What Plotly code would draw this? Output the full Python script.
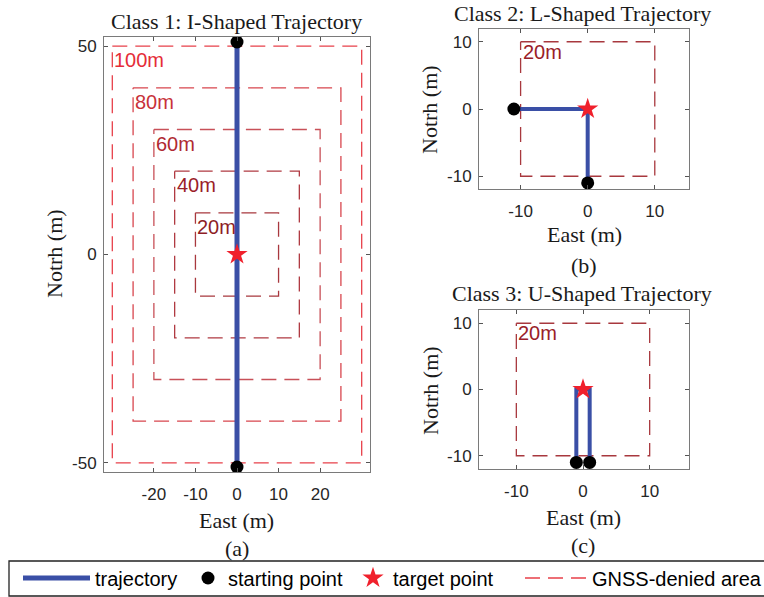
import plotly.graph_objects as go

# ---------------- data ----------------
# GNSS-denied square areas (panel a): half widths / half heights (m)
area_labels = ["100m", "80m", "60m", "40m", "20m"]
area_half_e = [30, 25, 20, 15, 10]
area_half_n = [50, 40, 30, 20, 10]
area_line_colors = ["#e8404a", "#d8464e", "#c85058", "#b03a42", "#a8383e"]
area_text_colors = ["#e52d38", "#c8323a", "#b02a32", "#9a2028", "#8e1e26"]

# Class 1: I-shaped trajectory
traj1_e = [0, 0]
traj1_n = [51, -51]
start1_e = [0, 0]
start1_n = [51, -51]

# Class 2: L-shaped trajectory
traj2_e = [-11, 0, 0]
traj2_n = [0, 0, -11]
start2_e = [-11, 0]
start2_n = [0, -11]

# Class 3: U-shaped trajectory
traj3_e = [-1, -1, 1, 1]
traj3_n = [-11, 0, 0, -11]
start3_e = [-1, 1]
start3_n = [-11, -11]

target_e = [0]
target_n = [0]

small_label = "20m"
small_half = 10

# tick values / labels
x1_ticks = [-20, -10, 0, 10, 20]
x1_ticklabels = ["-20", "-10", "0", "10", "20"]
y1_ticks = [-50, 0, 50]
y1_ticklabels = ["-50", "0", "50"]
small_ticks = [-10, 0, 10]
small_ticklabels = ["-10", "0", "10"]

titles = ["Class 1: I-Shaped Trajectory", "Class 2: L-Shaped Trajectory",
          "Class 3: U-Shaped Trajectory"]
sub_labels = ["(a)", "(b)", "(c)"]
legend_names = ["trajectory", "starting point", "target point", "GNSS-denied area"]

# ---------------- style ----------------
W, H = 764, 597
BLUE = "#3a4fa6"
RED = "#f0202c"
DARK = "#262626"
SANS = "Liberation Sans"
SERIF = "Liberation Serif"
DASH = "15px,8px"

fig = go.Figure()


def rect(he, hn):
    return [-he, he, he, -he, -he], [hn, hn, -hn, -hn, hn]


# Panel (a) boxes
for i, (lab, he, hn) in enumerate(zip(area_labels, area_half_e, area_half_n)):
    xs, ys = rect(he, hn)
    fig.add_trace(go.Scatter(
        x=xs, y=ys, mode="lines", xaxis="x", yaxis="y",
        line=dict(color=area_line_colors[i], width=1.3, dash=DASH),
        name=legend_names[3], showlegend=(i == 0), legend="legend4",
        hoverinfo="skip"))
    fig.add_annotation(x=-he, y=hn, xref="x", yref="y", text=lab,
                       showarrow=False, xanchor="left", yanchor="top",
                       xshift=0, yshift=-1,
                       font=dict(family=SANS, size=20, color=area_text_colors[i]))

# small panels boxes
for ax in ["2", "3"]:
    xs, ys = rect(small_half, small_half)
    fig.add_trace(go.Scatter(
        x=xs, y=ys, mode="lines", xaxis="x" + ax, yaxis="y" + ax,
        line=dict(color="#a8383e", width=1.3, dash=DASH),
        showlegend=False, hoverinfo="skip"))
    fig.add_annotation(x=-small_half, y=small_half, xref="x" + ax, yref="y" + ax,
                       text=small_label, showarrow=False, xanchor="left",
                       yanchor="top", xshift=0, yshift=3,
                       font=dict(family=SANS, size=20, color="#9a2028"))

trajs = [(traj1_e, traj1_n, start1_e, start1_n, "", 5),
         (traj2_e, traj2_n, start2_e, start2_n, "2", 4),
         (traj3_e, traj3_n, start3_e, start3_n, "3", 4)]
for k, (te, tn, se, sn, ax, lw) in enumerate(trajs):
    fig.add_trace(go.Scatter(
        x=te, y=tn, mode="lines", xaxis="x" + ax, yaxis="y" + ax,
        line=dict(color=BLUE, width=lw), name=legend_names[0],
        showlegend=(k == 0), legend="legend", hoverinfo="skip"))
for k, (te, tn, se, sn, ax, lw) in enumerate(trajs):
    fig.add_trace(go.Scatter(
        x=se, y=sn, mode="markers", xaxis="x" + ax, yaxis="y" + ax,
        marker=dict(color="black", size=13, symbol="circle"),
        name=legend_names[1], showlegend=(k == 0), legend="legend2",
        hoverinfo="skip"))
    fig.add_trace(go.Scatter(
        x=target_e, y=target_n, mode="markers", xaxis="x" + ax, yaxis="y" + ax,
        marker=dict(color=RED, size=16, symbol="star", line=dict(width=0)),
        name=legend_names[2], showlegend=(k == 0), legend="legend3",
        hoverinfo="skip"))


def px_x(p):
    return p / W


def px_y(p):
    return 1 - p / H


axis_common = dict(showline=True, linecolor="#7a7a7a", linewidth=1, mirror="allticks",
                   ticks="inside", ticklen=4, tickcolor="#555555", showgrid=False,
                   zeroline=False, tickfont=dict(family=SANS, size=17, color=DARK),
                   fixedrange=True)

legend_font = dict(family=SANS, size=20, color="black")


def leg(xp, iw):
    return dict(orientation="h", x=px_x(xp), y=px_y(578), xanchor="left",
                yanchor="middle", bgcolor="rgba(0,0,0,0)", borderwidth=0,
                font=legend_font, itemwidth=iw)


fig.update_layout(
    width=W, height=H, margin=dict(l=0, r=0, t=0, b=0, autoexpand=False),
    paper_bgcolor="white", plot_bgcolor="white",
    xaxis=dict(domain=[px_x(104), px_x(370)], range=[-32, 32],
               tickvals=x1_ticks, ticktext=x1_ticklabels, anchor="y",
               ticklabelstandoff=7, **axis_common),
    yaxis=dict(domain=[px_y(472), px_y(37)], range=[-52.2, 52.2],
               tickvals=y1_ticks, ticktext=y1_ticklabels, anchor="x",
               ticklabelstandoff=3, **axis_common),
    xaxis2=dict(domain=[px_x(479), px_x(689)], range=[-16.2, 15.1],
                tickvals=small_ticks, ticktext=small_ticklabels, anchor="y2",
                ticklabelstandoff=7, **axis_common),
    yaxis2=dict(domain=[px_y(189), px_y(29)], range=[-11.9, 11.9],
                tickvals=small_ticks, ticktext=small_ticklabels, anchor="x2",
                ticklabelstandoff=3, **axis_common),
    xaxis3=dict(domain=[px_x(479), px_x(689)], range=[-15.6, 15.9],
                tickvals=small_ticks, ticktext=small_ticklabels, anchor="y3",
                ticklabelstandoff=7, **axis_common),
    yaxis3=dict(domain=[px_y(469), px_y(310)], range=[-12, 12],
                tickvals=small_ticks, ticktext=small_ticklabels, anchor="x3",
                ticklabelstandoff=3, **axis_common),
    legend=leg(18, 67),
    legend2=leg(188, 30),
    legend3=leg(353, 30),
    legend4=leg(520, 62),
    showlegend=True,
)

# frame around the legend row
fig.add_shape(type="rect", xref="paper", yref="paper",
              x0=px_x(9), x1=px_x(790), y0=px_y(596), y1=px_y(561),
              line=dict(color="#222222", width=1.3), fillcolor="rgba(0,0,0,0)",
              layer="below")

# text labels (titles, axis titles, sub labels)
serif_font = dict(family=SERIF, size=22, color="#1a1a1a")
texts = [
    (titles[0], 237, 22, 0), (titles[1], 582, 13, 0), (titles[2], 582, 293, 0),
    ("East (m)", 237, 520, 0), ("East (m)", 584, 235, 0), ("East (m)", 583, 517, 0),
    (sub_labels[0], 237, 548, 0), (sub_labels[1], 584, 265, 0), (sub_labels[2], 583, 545, 0),
    ("Notrh (m)", 55, 254, -90), ("Notrh (m)", 430, 109, -90), ("Notrh (m)", 430, 390, -90),
]
for t, xp, yp, ang in texts:
    fig.add_annotation(x=px_x(xp), y=px_y(yp), xref="paper", yref="paper", text=t,
                       showarrow=False, xanchor="center", yanchor="middle",
                       textangle=ang, font=serif_font)

fig.write_html("out.html", config={"displayModeBar": False},
               post_script="document.body.style.margin='0px';")
